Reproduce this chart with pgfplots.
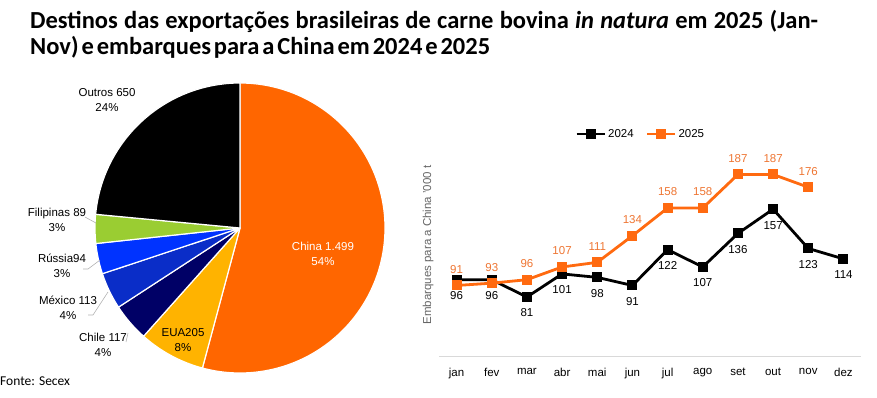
\documentclass[border=0pt]{standalone}
\usepackage{pgfplots}
\pgfplotsset{compat=1.18}
\usepackage{pgfplotstable}
\usepackage{fontspec}
\setmainfont{Liberation Sans}
\newfontfamily\calibri{Carlito}
\definecolor{cChina}{HTML}{FF6600}
\definecolor{cEUA}{HTML}{FFB300}
\definecolor{cChile}{HTML}{000066}
\definecolor{cMex}{HTML}{0A2DC8}
\definecolor{cRus}{HTML}{0033FF}
\definecolor{cFil}{HTML}{9ACD32}
\definecolor{cOut}{HTML}{000000}
\definecolor{cLine}{HTML}{FF6A10}
\definecolor{cLab}{HTML}{EE7532}
\pgfplotstableread{
name value color
China 1499 cChina
EUA 205 cEUA
Chile 117 cChile
Mexico 113 cMex
Russia 94 cRus
Filipinas 89 cFil
Outros 650 cOut
}\piedata
\begin{document}
\begin{tikzpicture}[x=1pt,y=1pt]
\path[use as bounding box] (0,0) rectangle (877,397);
% title
\node[anchor=base west, inner sep=0pt, font=\calibri\bfseries\fontsize{24.5}{29}\selectfont] at (30,368)
{\hbox to 788pt{Destinos das exportações brasileiras de carne bovina \textit{in natura} em 2025 (Jan-}};
\node[anchor=base west, inner sep=0pt, font=\calibri\bfseries\fontsize{24.5}{29}\selectfont] at (30,342)
{\spaceskip=3pt plus 1pt minus 1pt\hbox to 460pt{Nov) e embarques para a China em 2024 e 2025}};
% pie
\begin{axis}[at={(240pt,169pt)}, anchor=center, scale only axis, width=290pt, height=290pt,
  xmin=-1, xmax=1, ymin=-1, ymax=1, hide axis, clip=false]
\pgfplotsextra{
  \gdef\cum{0}
  \pgfplotstableforeachcolumnelement{value}\of\piedata\as\v{%
    \pgfplotstablegetelem{\pgfplotstablerow}{color}\of\piedata
    \let\col\pgfplotsretval
    \pgfmathsetmacro\aS{90-(\cum/2767)*360}%
    \pgfmathsetmacro\aE{90-((\cum+\v)/2767)*360}%
    \fill[fill=\col, draw=white, line width=1.2pt, line join=round] (axis cs:0,0) -- (axis cs:{cos(\aS)},{sin(\aS)}) arc[start angle=\aS, end angle=\aE, radius=145pt] -- cycle;
    \pgfmathsetmacro\tmp{\cum+\v}%
    \xdef\cum{\tmp}%
  }
}
\end{axis}
% pie labels
\begin{scope}[every node/.style={align=center, inner sep=0pt, font=\fontsize{11.5}{15}\selectfont}]
\node at (107,296.5) {Outros 650\\24\%};
\node at (57,177) {Filipinas 89\\3\%};
\node at (62,131.5) {Rússia94\\3\%};
\node at (68,89.5) {México 113\\4\%};
\node at (103,52) {Chile 117\\4\%};
\node at (183,57) {EUA205\\8\%};
\node[text=white] at (323,143) {China 1.499\\54\%};
\end{scope}
\draw[gray!60, line width=0.6pt] (85,180) -- (96,174);
\draw[gray!60, line width=0.6pt] (83,128) -- (88,128) -- (100,137);
\draw[gray!60, line width=0.6pt] (88,82) -- (93,82) -- (108,105);
\draw[gray!60, line width=0.6pt] (126,55) -- (128,64);
\node[anchor=west, inner sep=0pt, font=\calibri\fontsize{13.5}{16}\selectfont] at (0,16) {Fonte: Secex};
% line chart
\begin{axis}[at={(439pt,41pt)}, anchor=south west, scale only axis, width=422pt, height=222pt,
  xmin=-0.5, xmax=11.5, ymin=30, ymax=222,
  axis x line*=bottom, axis y line=none,
  x axis line style={-, draw=black!15, line width=1pt},
  xtick={0,...,11}, xticklabels={jan,fev,mar,abr,mai,jun,jul,ago,set,out,nov,dez},
  major tick length=0pt, xtick style={draw=none},
  xticklabel style={font=\fontsize{11.5}{14}\selectfont, yshift=-9pt},
  ytick=\empty, clip=false,
  /pgf/number format/assume math mode=true,
  legend style={at={(0.478,1)}, anchor=center, draw=none, fill=none, legend columns=2,
    font=\fontsize{11.5}{14}\selectfont,
    /tikz/every even column/.append style={column sep=10pt}},
  legend image code/.code={\draw[mark repeat=2, mark phase=2, #1] plot coordinates {(0pt,0pt) (14pt,0pt) (28pt,0pt)};},
]
\addplot[black, line width=2.8pt, mark=square*, mark size=3.6pt, mark options={solid},
  nodes near coords, every node near coord/.append style={anchor=center, yshift=-16pt, font=\fontsize{11.5}{14}\selectfont, text=black}]
  coordinates {(0,96) (1,96) (2,81) (3,101) (4,98) (5,91) (6,122) (7,107) (8,136) (9,157) (10,123) (11,114)};
\addplot[cLine, line width=2.8pt, mark=square*, mark size=3.6pt, mark options={solid},
  nodes near coords, every node near coord/.append style={anchor=center, yshift=16pt, font=\fontsize{11.5}{14}\selectfont, text=cLab}]
  coordinates {(0,91) (1,93) (2,96) (3,107) (4,111) (5,134) (6,158) (7,158) (8,187) (9,187) (10,176)};
\legend{2024,2025}
\node[rotate=90, font=\fontsize{11.5}{14}\selectfont, text=black!60] at (rel axis cs:-0.026,0.5) {Embarques para a China '000 t};
\end{axis}
\end{tikzpicture}
\end{document}
